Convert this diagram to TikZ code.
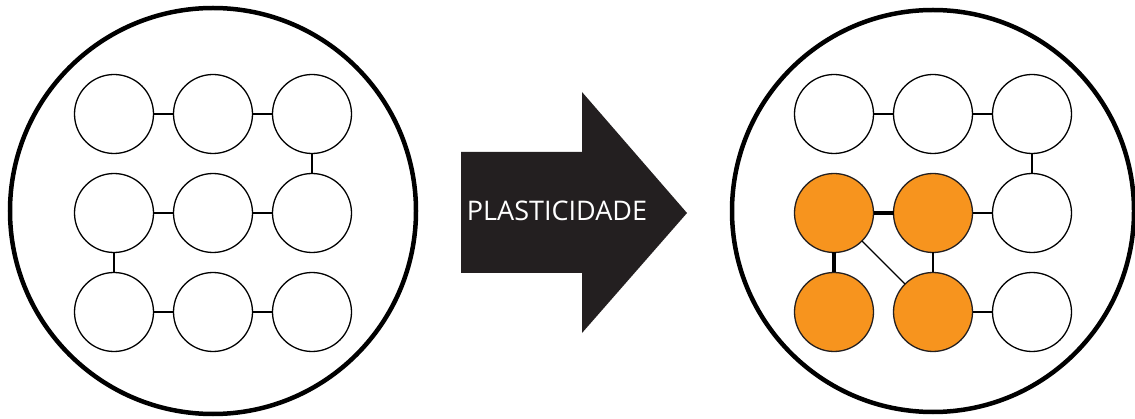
\documentclass[tikz,border=0pt]{standalone}
\usepackage{fontspec}
\setmainfont{Open Sans}
\usetikzlibrary{positioning}

\definecolor{plastorange}{HTML}{F7941E}
\definecolor{inkdark}{HTML}{231F20}

\tikzset{
    cell/.style={draw, circle, line width=1.3pt, minimum size=79pt, inner sep=0pt, outer sep=0pt, fill=white},
    active/.style={cell, fill=plastorange, draw=inkdark},
    link/.style={line width=1.3pt},
    strong/.style={line width=3.4pt},
    dish/.style={draw, circle, line width=4.5pt, inner sep=0pt}
}

\begin{document}
\begin{tikzpicture}[x=1pt, y=1pt]

        \useasboundingbox (0,0) rectangle (1135,418);

        % outer dishes
        \node [dish, minimum size=406pt] (before) at (213,207) {};
        \node [dish, minimum size=402pt] (after) at (933,207) {};

        % left network
        \node [cell] (l11) at (114,304) {};
        \node [cell, right=20pt of l11] (l12) {};
        \node [cell, right=20pt of l12] (l13) {};
        \node [cell, below=20pt of l11] (l21) {};
        \node [cell, right=20pt of l21] (l22) {};
        \node [cell, right=20pt of l22] (l23) {};
        \node [cell, below=20pt of l21] (l31) {};
        \node [cell, right=20pt of l31] (l32) {};
        \node [cell, right=20pt of l32] (l33) {};
        \foreach \a/\b in {l11/l12, l12/l13, l13/l23, l21/l22, l22/l23, l21/l31, l31/l32, l32/l33} {
            \draw[link] (\a) -- (\b);
        }

        % arrow
        \fill[inkdark] (461,266) -- (582,266) -- (582,326) -- (687,205) -- (582,85) -- (582,145) -- (461,145) -- cycle;
        \node [text=white, font=\fontsize{27}{27}\selectfont, inner sep=0pt] (plast) at (557,207) {PLASTICIDADE};

        % right network
        \node [cell] (r11) at (834,304) {};
        \node [cell, right=20pt of r11] (r12) {};
        \node [cell, right=20pt of r12] (r13) {};
        \node [active, below=20pt of r11] (r21) {};
        \node [active, right=20pt of r21] (r22) {};
        \node [cell, right=20pt of r22] (r23) {};
        \node [active, below=20pt of r21] (r31) {};
        \node [active, right=20pt of r31] (r32) {};
        \node [cell, right=20pt of r32] (r33) {};
        \foreach \a/\b in {r11/r12, r12/r13, r13/r23, r22/r23, r21/r32, r22/r32, r32/r33} {
            \draw[link] (\a) -- (\b);
        }
        \draw[strong] (r21) -- (r22);
        \draw[strong] (r21) -- (r31);

\end{tikzpicture}
\end{document}
